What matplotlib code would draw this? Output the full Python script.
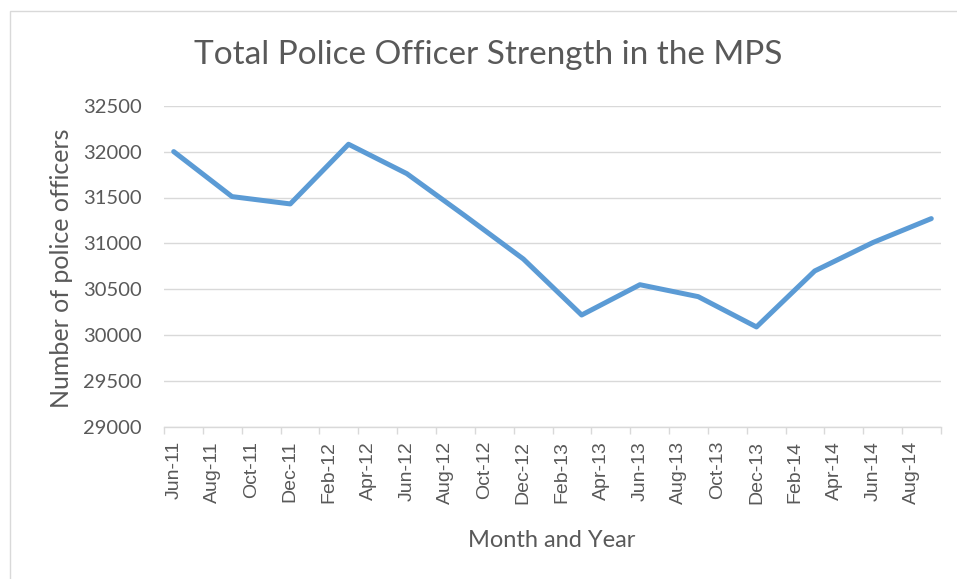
import matplotlib
matplotlib.use("Agg")
import matplotlib.pyplot as plt
import pandas as pd
from matplotlib.patches import Rectangle

# ---- data ----
dates = ["Jun-11", "Sep-11", "Dec-11", "Mar-12", "Jun-12", "Sep-12", "Dec-12",
         "Mar-13", "Jun-13", "Sep-13", "Dec-13", "Mar-14", "Jun-14", "Sep-14"]
officers = [32000, 31510, 31430, 32080, 31760, 31300, 30830,
            30220, 30550, 30420, 30090, 30700, 31010, 31270]
tick_labels = ["Jun-11", "Aug-11", "Oct-11", "Dec-11", "Feb-12", "Apr-12", "Jun-12",
               "Aug-12", "Oct-12", "Dec-12", "Feb-13", "Apr-13", "Jun-13", "Aug-13",
               "Oct-13", "Dec-13", "Feb-14", "Apr-14", "Jun-14", "Aug-14"]
y_ticks = [29000, 29500, 30000, 30500, 31000, 31500, 32000, 32500]

title = "Total Police Officer Strength in the MPS"
xlabel = "Month and Year"
ylabel = "Number of police officers"

# ---- convert month labels to month offsets ----
def month_index(labels, start):
    d = pd.to_datetime(labels, format="%b-%y")
    s = pd.to_datetime(start, format="%b-%y")
    return [(x.year - s.year) * 12 + (x.month - s.month) for x in d]

x_data = month_index(dates, dates[0])
x_ticks = month_index(tick_labels, dates[0])
n_months = month_index(["Oct-14"], dates[0])[0]  # categories Jun-11 .. Sep-14

TEXT = "#595959"
GRID = "#d9d9d9"
LINE = "#5b9bd5"

W, H = 957, 579
fig = plt.figure(figsize=(W / 100, H / 100), dpi=100)
fig.patch.set_facecolor("white")

# chart border
fig.add_artist(Rectangle((10 / W, -0.1), 1.2, 1.1 - 11 / H, transform=fig.transFigure,
                         fill=False, edgecolor=GRID, linewidth=1.0))

left, right = 164 / W, 941 / W
bottom, top = 1 - 427 / H, 1 - 105.7 / H
ax = fig.add_axes([left, bottom, right - left, top - bottom])

ax.plot(x_data, officers, color=LINE, linewidth=3.6, solid_joinstyle="round",
        solid_capstyle="round", zorder=3)

ax.set_xlim(-0.5, n_months - 0.5)
ax.set_ylim(y_ticks[0], y_ticks[-1])
ax.set_yticks(y_ticks)
ax.set_yticklabels([str(v) for v in y_ticks], fontfamily="Lato", fontsize=14.5, color=TEXT)
ax.tick_params(axis="y", length=0, pad=16)

ax.set_xticks(x_ticks)
ax.set_xticklabels(tick_labels, rotation=90, fontfamily="Liberation Sans",
                   fontsize=14, color=TEXT, va="top", ha="center")
ax.tick_params(axis="x", which="major", length=0, pad=10)
ax.set_xticks([t - 0.5 for t in x_ticks] + [n_months - 0.5], minor=True)
ax.tick_params(axis="x", which="minor", length=5, color=GRID, width=1.0)

ax.grid(axis="y", color=GRID, linewidth=1.0)
ax.set_axisbelow(True)
for s in ["top", "right", "left"]:
    ax.spines[s].set_visible(False)
ax.spines["bottom"].set_color(GRID)
ax.spines["bottom"].set_linewidth(1.0)

fig.text(488 / W, 1 - 64 / H, title, ha="center", va="baseline",
         fontfamily="Lato", fontsize=24, color=TEXT)
fig.text(552 / W, 1 - 546.7 / H, xlabel, ha="center", va="baseline",
         fontfamily="Lato", fontsize=17, color=TEXT)
fig.text(62 / W, 1 - 268 / H, ylabel, ha="center", va="center", rotation=90,
         fontfamily="Lato", fontsize=18, color=TEXT)

fig.savefig("out.png", dpi=100)
